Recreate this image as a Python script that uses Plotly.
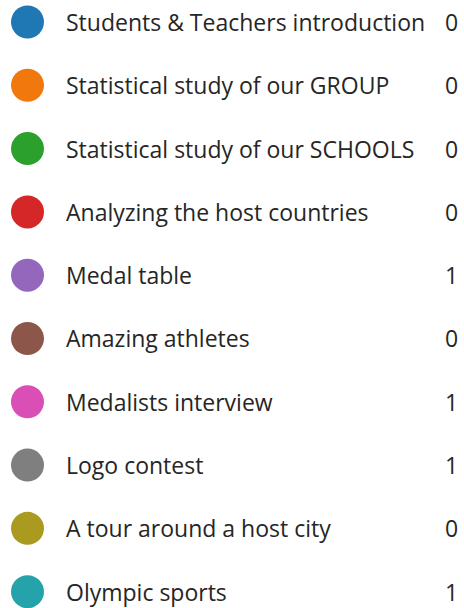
import plotly.graph_objects as go

labels = [
    "Students & Teachers introduction",
    "Statistical study of our GROUP",
    "Statistical study of our SCHOOLS",
    "Analyzing the host countries",
    "Medal table",
    "Amazing athletes",
    "Medalists interview",
    "Logo contest",
    "A tour around a host city",
    "Olympic sports",
]
counts = [0, 0, 0, 0, 1, 0, 1, 1, 0, 1]
colors = ["#1f77b4", "#f0780c", "#2ca02c", "#d62728", "#9467bd",
          "#8c564b", "#da4fb6", "#7f7f7f", "#aa9a20", "#26a2ab"]

rows = list(range(len(labels)))
FONT = "Open Sans, Noto Sans, sans-serif"
TXT = "#262626"

fig = go.Figure()
fig.add_trace(go.Scatter(
    x=[27.5] * len(rows), y=rows, mode="markers",
    marker=dict(size=33, color=colors, line=dict(width=0)),
    hoverinfo="skip", showlegend=False,
))

for i, (lab, c) in enumerate(zip(labels, counts)):
    fig.add_annotation(x=64, y=i, text=lab, xanchor="left", yanchor="middle",
                       showarrow=False, font=dict(family=FONT, size=23, color=TXT))
    fig.add_annotation(x=451, y=i, text=str(c), xanchor="center", yanchor="middle",
                       showarrow=False, font=dict(family=FONT, size=23, color=TXT))

fig.update_layout(
    width=464, height=608,
    margin=dict(l=0, r=0, t=0, b=0),
    paper_bgcolor="white", plot_bgcolor="white",
    xaxis=dict(range=[0, 464], visible=False, fixedrange=True),
    yaxis=dict(range=[9.258, -0.3475], visible=False, fixedrange=True),
)
fig.write_html("out.html")
